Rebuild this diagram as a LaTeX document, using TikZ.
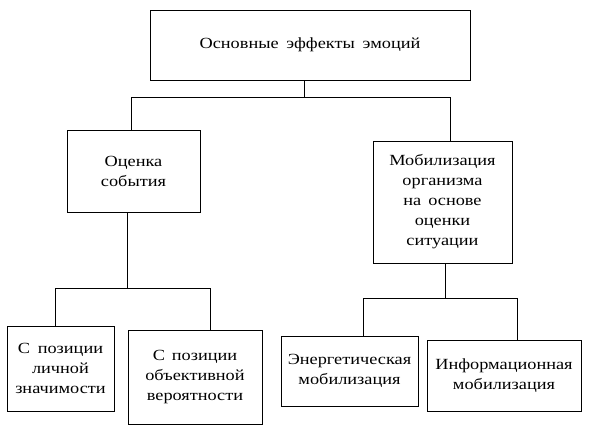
\documentclass[tikz,border=0pt]{standalone}
\usepackage{fontspec}
\setmainfont{Liberation Serif}[FakeStretch=1.18]
\begin{document}
\begin{tikzpicture}[x=1pt,y=-1pt,
  box/.style={draw,line width=0.9pt,align=center,inner sep=2pt,font=\fontsize{15.5}{20}\selectfont},
  conn/.style={line width=0.8pt}]
\useasboundingbox (0,0) rectangle (593,429);
\node[box,minimum width=320pt,minimum height=70pt] (top) at (310,45) {Основные\hspace{0.5em}эффекты\hspace{0.5em}эмоций};
\node[box,minimum width=133pt,minimum height=82pt] (oc) at (133.5,171) {Оценка\\события};
\node[box,minimum width=139pt,minimum height=122pt] (mob) at (442.5,202) {Мобилизация\\организма\\на\hspace{0.45em}основе\\оценки\\ситуации};
\node[box,minimum width=107pt,minimum height=85pt] (b1) at (60.5,368.5) {С\hspace{0.5em}позиции\\личной\\значимости};
\node[box,minimum width=134pt,minimum height=94pt] (b2) at (195,377) {С\hspace{0.45em}позиции\\объективной\\вероятности};
\node[box,minimum width=137pt,minimum height=70pt] (b3) at (349.5,371) {Энергетическая\\мобилизация};
\node[box,minimum width=154pt,minimum height=71pt] (b4) at (504,375.5) {Информационная\\мобилизация};
\coordinate (l1) at (0,97);
\coordinate (l2) at (0,288);
\coordinate (l3) at (0,298);
\draw[conn] ([xshift=-6pt]top.south) -- ([xshift=-6pt]top.south |- l1);
\draw[conn] ([xshift=-2pt]oc.north) -- ([xshift=-2pt]oc.north |- l1) -- ([xshift=8pt]mob.north |- l1) -- ([xshift=8pt]mob.north);
\draw[conn] ([xshift=-6pt]oc.south) -- ([xshift=-6pt]oc.south |- l2);
\draw[conn] ([xshift=-5pt]b1.north) -- ([xshift=-5pt]b1.north |- l2) -- ([xshift=15pt]b2.north |- l2) -- ([xshift=15pt]b2.north);
\draw[conn] ([xshift=3pt]mob.south) -- ([xshift=3pt]mob.south |- l3);
\draw[conn] ([xshift=14pt]b3.north) -- ([xshift=14pt]b3.north |- l3) -- ([xshift=13pt]b4.north |- l3) -- ([xshift=13pt]b4.north);
\end{tikzpicture}
\end{document}
